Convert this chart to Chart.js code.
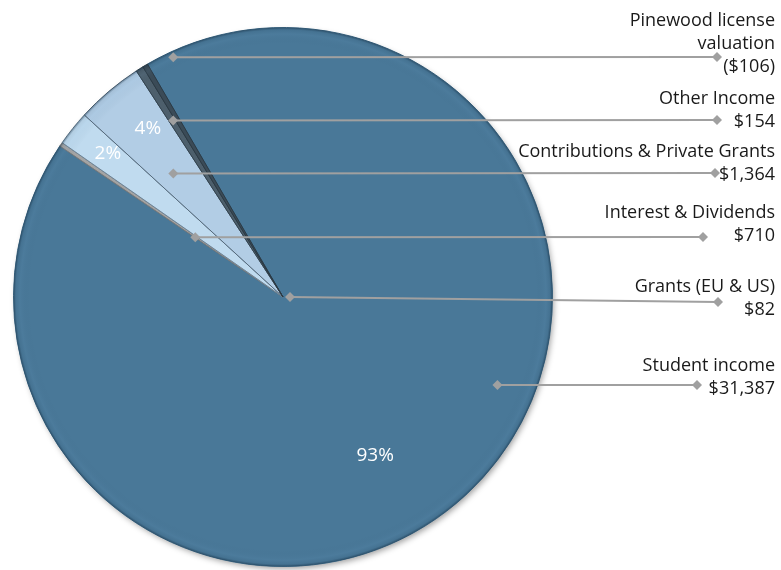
<!DOCTYPE html>
<html>
<head>
<meta charset="utf-8">
<script src="https://cdn.jsdelivr.net/npm/chart.js@4"></script>
<style>
  html, body { margin: 0; padding: 0; background: #fff; }
  #incomeChart { display: block; }
</style>
</head>
<body>
<canvas id="incomeChart" width="781" height="570"></canvas>
<script>
// data, in clockwise order from the start of the pie
const categories = ["Student income", "Grants (EU & US)", "Interest & Dividends",
    "Contributions & Private Grants", "Other Income", "Pinewood license valuation"];
const amounts = [31387, 82, 710, 1364, 154, -106];
const labelLines = [
    ["Student income"],
    ["Grants (EU & US)"],
    ["Interest & Dividends"],
    ["Contributions & Private Grants"],
    ["Other Income"],
    ["Pinewood license", "valuation"],
];
const showPercent = [true, false, true, true, false, false];

const sliceColors = ["#497898", "#a4a4a4", "#c0dbef", "#b2cde5", "#4d5f6c", "#3b4b57"];
const sliceBorders = ["#3e6a88", "#7a7a7a", "#6f8597", "#55697a", "#34434e", "#2c3a44"];

// where the callouts sit (layout only)
const textRight = 775;
const textTop = [366, 287, 213, 152, 99, 21];
const lineHeight = 23;
const leaderEnd = [[697, 385], [718, 302], [703, 237], [715, 173], [717, 120], [717, 57]];
const leaderStart = [[112.3, 0.86], [90, 0.026], [-55.7, 0.394], [-41.6, 0.613], [-31.9, 0.771], [-24.6, 0.978]];
const pctPos = [[149.8, 0.68], [0, 0], [-50.7, 0.84], [-38.8, 0.80], [0, 0], [0, 0]];

const FontFamily = "'Open Sans', 'Noto Sans', sans-serif";

const total = amounts.reduce((s, v) => s + Math.abs(v), 0);

const fmtMoney = v => {
    const s = "$" + Math.abs(v).toLocaleString("en-US");
    return v < 0 ? "(" + s + ")" : s;
};

const polar = (arc, deg, frac) => {
    const a = deg * Math.PI / 180;
    return [arc.x + Math.sin(a) * arc.outerRadius * frac, arc.y - Math.cos(a) * arc.outerRadius * frac];
};

const diamond = (ctx, x, y, r) => {
    ctx.beginPath();
    ctx.moveTo(x, y - r);
    ctx.lineTo(x + r, y);
    ctx.lineTo(x, y + r);
    ctx.lineTo(x - r, y);
    ctx.closePath();
    ctx.fill();
};

const shadowPlugin = {
    id: "pieShadow",
    beforeDatasetsDraw(chart) {
        const ctx = chart.ctx;
        const arc = chart.getDatasetMeta(0).data[0];
        ctx.save();
        ctx.shadowColor = "rgba(0,0,0,0.4)";
        ctx.shadowBlur = 6;
        ctx.shadowOffsetX = 2;
        ctx.shadowOffsetY = 3;
        ctx.fillStyle = "#497898";
        ctx.beginPath();
        ctx.arc(arc.x, arc.y, arc.outerRadius - 1, 0, Math.PI * 2);
        ctx.fill();
        ctx.restore();
    },
    afterDatasetsDraw(chart) {
        const ctx = chart.ctx;
        const arc = chart.getDatasetMeta(0).data[0];
        // soft darkening at the rim
        ctx.save();
        const g = ctx.createRadialGradient(arc.x, arc.y, arc.outerRadius * 0.94, arc.x, arc.y, arc.outerRadius);
        g.addColorStop(0, "rgba(20,50,75,0)");
        g.addColorStop(0.6, "rgba(110,160,200,0.08)");
        g.addColorStop(0.85, "rgba(20,50,75,0.08)");
        g.addColorStop(1, "rgba(20,45,65,0.5)");
        ctx.fillStyle = g;
        ctx.beginPath();
        ctx.arc(arc.x, arc.y, arc.outerRadius, 0, Math.PI * 2);
        ctx.fill();
        ctx.restore();
    }
};

const calloutPlugin = {
    id: "callouts",
    afterDraw(chart) {
        const ctx = chart.ctx;
        const arcs = chart.getDatasetMeta(0).data;
        ctx.save();

        // percentages inside the slices
        ctx.fillStyle = "#ffffff";
        ctx.font = "19px " + FontFamily;
        ctx.textAlign = "center";
        ctx.textBaseline = "middle";
        arcs.forEach((arc, i) => {
            if (!showPercent[i]) return;
            const [x, y] = polar(arc, pctPos[i][0], pctPos[i][1]);
            ctx.fillText(Math.round(Math.abs(amounts[i]) / total * 100) + "%", x, y);
        });

        // leader lines
        ctx.strokeStyle = "#a0a0a0";
        ctx.fillStyle = "#a0a0a0";
        ctx.lineWidth = 2;
        arcs.forEach((arc, i) => {
            const [x0, y0] = polar(arc, leaderStart[i][0], leaderStart[i][1]);
            const [x1, y1] = leaderEnd[i];
            ctx.beginPath();
            ctx.moveTo(x0, y0);
            ctx.lineTo(x1, y1);
            ctx.stroke();
            diamond(ctx, x0, y0, 5);
            diamond(ctx, x1, y1, 5);
        });

        // category names and values
        ctx.fillStyle = "#1a1a1a";
        ctx.font = "18px " + FontFamily;
        ctx.textAlign = "right";
        categories.forEach((c, i) => {
            const lines = labelLines[i].concat([fmtMoney(amounts[i])]);
            lines.forEach((t, k) => ctx.fillText(t, textRight, textTop[i] + k * lineHeight));
        });
        ctx.restore();
    }
};

new Chart(document.getElementById("incomeChart"), {
    type: "pie",
    data: {
        labels: categories,
        datasets: [{
            data: amounts.map(v => Math.abs(v)),
            backgroundColor: sliceColors,
            borderColor: sliceBorders,
            borderWidth: 1,
        }]
    },
    options: {
        responsive: false,
        animation: false,
        rotation: -30.2,
        layout: { padding: { top: 27, bottom: 3, left: 13, right: 228 } },
        plugins: {
            legend: { display: false },
            tooltip: { enabled: false },
        },
    },
    plugins: [shadowPlugin, calloutPlugin],
});
</script>
</body>
</html>
